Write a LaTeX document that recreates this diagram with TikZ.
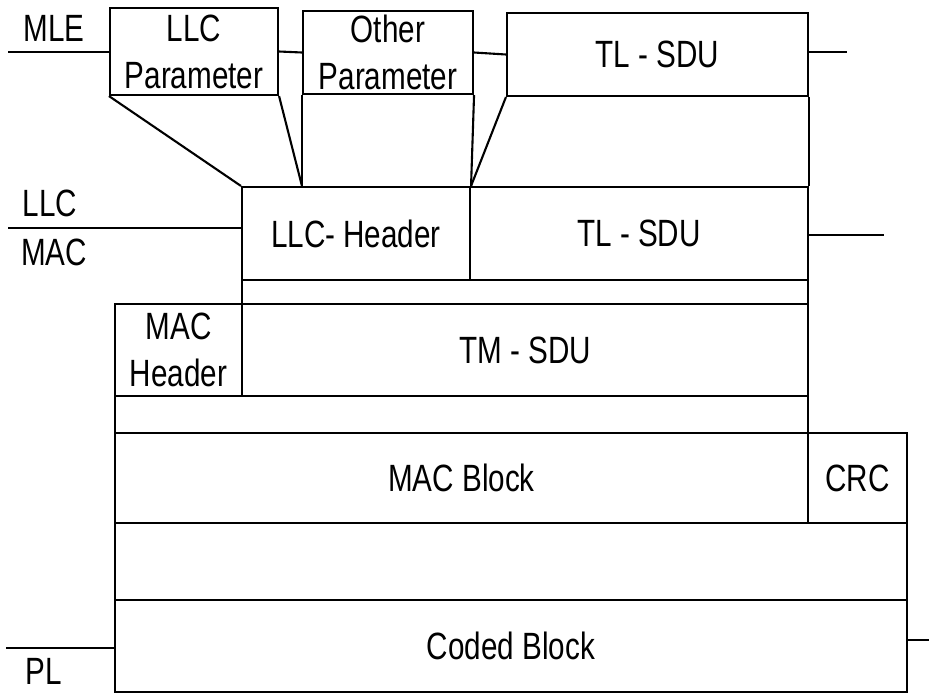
\documentclass[tikz,border=0pt]{standalone}
\usepackage{fontspec}
\setmainfont{Liberation Sans}[FakeStretch=0.78]
\usetikzlibrary{fit}

\begin{document}
\begin{tikzpicture}[
	x=1pt, y=-1pt,
	font=\fontsize{38}{47}\selectfont,
	line width=2.1pt,
	blk/.style={draw, rectangle, inner sep=0pt},
	lbl/.style={inner sep=0pt, align=center},
]
\useasboundingbox (0,0) rectangle (929,694);

% MLE
\node[blk, fit={(110,8)(278,95)}]   (llcpar) {};
\node[blk, fit={(303,11)(473,94)}]  (othpar) {};
\node[blk, fit={(507,13)(808,96)}]  (tlsduA) {};

% LLC
\node[blk, fit={(242,187)(470,280)}] (llchdr) {};
\node[blk, fit={(470,187)(808,280)}] (tlsduB) {};
\node[blk, fit={(242,280)(808,304)}] (gapA) {};

% MAC
\node[blk, fit={(115,304)(242,396)}] (machdr) {};
\node[blk, fit={(242,304)(808,396)}] (tmsdu) {};
\node[blk, fit={(115,396)(808,433)}] (gapB) {};
\node[blk, fit={(115,433)(808,523)}] (macblk) {};
\node[blk, fit={(808,433)(907,523)}] (crc) {};

% PL
\node[blk, fit={(115,523)(907,600)}] (gapC) {};
\node[blk, fit={(115,600)(907,692)}] (coded) {};

% texts of the blocks
\node[lbl] (llcparT) at (llcpar.center) {LLC\\Parameter};
\node[lbl] (othparT) at (othpar.center) {Other\\Parameter};
\node[lbl] (tlsduAT) at (tlsduA.center) {TL - SDU};
\node[lbl] (llchdrT) at (llchdr.center) {LLC- Header};
\node[lbl] (tlsduBT) at (tlsduB.center) {TL - SDU};
\node[lbl] (machdrT) at (machdr.center) {MAC\\Header};
\node[lbl] (tmsduT)  at (tmsdu.center)  {TM - SDU};
\node[lbl] (macblkT) at (macblk.center) {MAC Block};
\node[lbl] (crcT)    at (crc.center)    {CRC};
\node[lbl] (codedT)  at (coded.center)  {Coded Block};

% layer names
\node[lbl] (lblmle) at (54,28)  {MLE};
\node[lbl] (lblllc) at (50,203) {LLC};
\node[lbl] (lblmac) at (54,252) {MAC};
\node[lbl] (lblpl)  at (44,671) {PL};

\coordinate (mleL) at (8,52);
\coordinate (mleR) at (847,52);
\coordinate (llcL) at (8,228);
\coordinate (llcR) at (884,235);
\coordinate (plL)  at (6,648);
\coordinate (plR)  at (929,640);

\draw (mleL) -- (mleL -| llcpar.west);
\draw (llcpar.east) -- (othpar.west);
\draw (othpar.east) -- (tlsduA.west);
\draw (tlsduA.east |- mleR) -- (mleR);
\draw (llcL) -- (llcL -| llchdr.west);
\draw (tlsduB.east |- llcR) -- (llcR);
\draw (plL) -- (plL -| coded.west);
\draw (coded.east |- plR) -- (plR);

% mapping of the parameters
\draw (llcpar.south west) -- (llchdr.north west);
\draw (llcpar.south east) -- (othpar.south west |- llchdr.north);
\draw (othpar.south west) -- (othpar.south west |- llchdr.north);
\draw (othpar.south east) -- (llchdr.north east);
\draw (tlsduA.south west) -- (llchdr.north east);
\draw (tlsduA.south east) -- (tlsduB.north east);
\end{tikzpicture}
\end{document}
